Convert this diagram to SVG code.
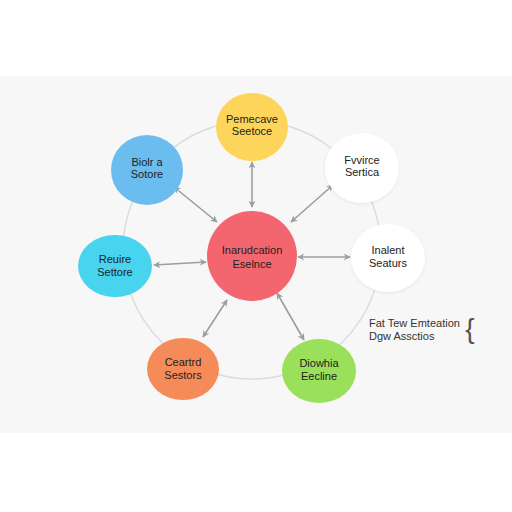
<svg xmlns="http://www.w3.org/2000/svg" width="512" height="512" viewBox="0 0 512 512">
<defs>
<style>
.lbl{font-family:"Liberation Sans","DejaVu Sans",sans-serif;font-size:11px;fill:#222;text-anchor:middle}
.conn{stroke:#9a9ea3;stroke-width:1.6;fill:none;marker-start:url(#ah);marker-end:url(#ah)}
</style>
<marker id="ah" viewBox="0 0 10 10" refX="9" refY="5" markerWidth="7" markerHeight="7" orient="auto-start-reverse" markerUnits="userSpaceOnUse">
<path d="M0,0 L10,5 L0,10 L3,5 Z" fill="#9a9ea3"/>
</marker>
<filter id="sh" x="-20%" y="-20%" width="140%" height="140%">
<feDropShadow dx="0" dy="1" stdDeviation="1.5" flood-color="#000" flood-opacity="0.08"/>
</filter>
</defs>
<rect width="512" height="512" fill="#ffffff"/>
<rect x="0" y="76" width="512" height="357" fill="#f7f7f7"/>
<circle cx="252" cy="250" r="129" fill="none" stroke="#dcdcdc" stroke-width="1.5"/>
<g id="connectors">
<line class="conn" x1="252" y1="207" x2="252" y2="162"/>
<line class="conn" x1="217" y1="222" x2="174" y2="187"/>
<line class="conn" x1="291" y1="222" x2="333" y2="185"/>
<line class="conn" x1="206" y1="262" x2="154" y2="265"/>
<line class="conn" x1="298" y1="257" x2="350" y2="257"/>
<line class="conn" x1="227" y1="300" x2="203" y2="337"/>
<line class="conn" x1="277" y1="293" x2="304" y2="340"/>
</g>
<g id="center">
<circle cx="252" cy="256" r="45" fill="#f4666f"/>
<text class="lbl" x="252" y="254">Inarudcation</text>
<text class="lbl" x="252" y="268">Eselnce</text>
</g>
<g id="top">
<ellipse cx="252" cy="127" rx="36" ry="34" fill="#fcd55a"/>
<text class="lbl" x="252" y="123">Pemecave</text>
<text class="lbl" x="252" y="135">Seetoce</text>
</g>
<g id="topleft">
<ellipse cx="147" cy="170" rx="36" ry="35" fill="#6bbdf0"/>
<text class="lbl" x="147" y="166">Biolr a</text>
<text class="lbl" x="147" y="178">Sotore</text>
</g>
<g id="topright">
<ellipse cx="362" cy="168" rx="37" ry="35" fill="#ffffff" filter="url(#sh)"/>
<text class="lbl" x="362" y="164">Fvvirce</text>
<text class="lbl" x="362" y="176">Sertica</text>
</g>
<g id="left">
<ellipse cx="115" cy="266" rx="37" ry="31" fill="#48d3ef"/>
<text class="lbl" x="115" y="263">Reuire</text>
<text class="lbl" x="115" y="276">Settore</text>
</g>
<g id="right">
<ellipse cx="388" cy="258" rx="37" ry="34" fill="#ffffff" filter="url(#sh)"/>
<text class="lbl" x="388" y="254">Inalent</text>
<text class="lbl" x="388" y="267">Seaturs</text>
</g>
<g id="bottomleft">
<ellipse cx="183" cy="369" rx="36" ry="31" fill="#f68b5a"/>
<text class="lbl" x="183" y="366">Ceartrd</text>
<text class="lbl" x="183" y="379">Sestors</text>
</g>
<g id="bottomright">
<ellipse cx="319" cy="371" rx="37" ry="32" fill="#9be05a"/>
<text class="lbl" x="319" y="367">Diowhia</text>
<text class="lbl" x="319" y="380">Eecline</text>
</g>
<g id="note">
<text x="369" y="327" font-family="Liberation Sans, DejaVu Sans, sans-serif" font-size="11" fill="#333">Fat Tew Emteation</text>
<text x="369" y="340" font-family="Liberation Sans, DejaVu Sans, sans-serif" font-size="11" fill="#333">Dgw Assctios</text>
<text x="470" y="338" font-family="Liberation Sans, DejaVu Sans, sans-serif" font-size="28" font-weight="300" fill="#555" text-anchor="middle">{</text>
</g>
</svg>
